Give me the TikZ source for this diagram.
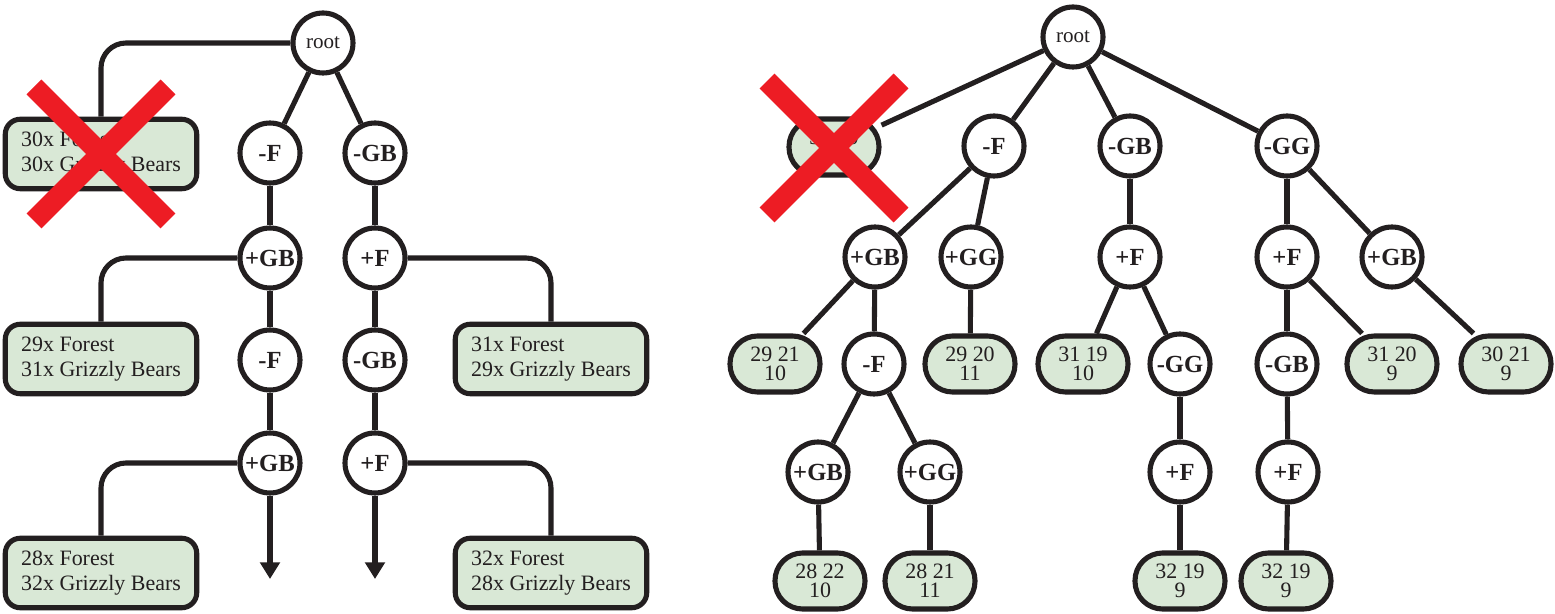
\documentclass[tikz,border=0pt]{standalone}
\usepackage{fontspec}
\setmainfont{Liberation Serif}
\usepackage{tikz}
\usetikzlibrary{arrows.meta,positioning}
\usepackage{xcolor}
\definecolor{ink}{HTML}{231F20}
\definecolor{leafgreen}{HTML}{D9E8D6}
\definecolor{crossred}{HTML}{ED1C24}

\begin{document}
\begin{tikzpicture}[x=0.02cm,y=-0.02cm,line width=2.9pt,draw=ink,text=ink]
	\tikzstyle{op}=[circle,draw,fill=white,minimum size=1.2cm,inner sep=0pt,
		font=\bfseries\fontsize{14}{14}\selectfont]
	\tikzstyle{start}=[op,font=\fontsize{12}{12}\selectfont]
	\tikzstyle{box}=[rectangle,draw,fill=leafgreen,rounded corners=0.3cm,
		minimum width=3.83cm,minimum height=1.39cm,align=left,
		font=\fontsize{12.5}{14.2}\selectfont]
	\tikzstyle{leaf}=[rectangle,draw,fill=leafgreen,rounded corners=0.55cm,
		minimum width=1.8cm,minimum height=1.12cm,inner sep=1pt,align=center,
		font=\fontsize{12.5}{11}\selectfont]
	\tikzstyle{cross}=[draw=crossred,line width=0.42cm]
	\tikzstyle{elbow}=[rounded corners=0.5cm]

	\useasboundingbox (0,0) rectangle (1555,614);

	% left: one path, the others thrown away
	\node[start] (A) at (323,43)  {root};
	\node[op]    (B) at (270,153) {-F};
	\node[op]    (C) at (375,153) {-GB};
	\node[op]    (D) at (270,258) {+GB};
	\node[op]    (E) at (270,360) {-F};
	\node[op]    (F) at (270,463) {+GB};
	\node[op]    (G) at (375,258) {+F};
	\node[op]    (H) at (375,360) {-GB};
	\node[op]    (I) at (375,463) {+F};
	\coordinate  (J) at (270,579);
	\coordinate  (K) at (375,579);

	\node[box] (L) at (101,154) {30x Forest\\30x Grizzly Bears};
	\node[box] (M) at (101,359) {29x Forest\\31x Grizzly Bears};
	\node[box] (N) at (101,573) {28x Forest\\32x Grizzly Bears};
	\node[box] (O) at (551,359) {31x Forest\\29x Grizzly Bears};
	\node[box] (P) at (551,573) {32x Forest\\28x Grizzly Bears};

	\path 	(A) edge (B)
			(A) edge (C)
			(B) edge (D)
			(D) edge (E)
			(E) edge (F)
			(C) edge (G)
			(G) edge (H)
			(H) edge (I);
	\draw[elbow] (A.west) -| (L.north);
	\draw[elbow] (D.west) -| (M.north);
	\draw[elbow] (F.west) -| (N.north);
	\draw[elbow] (G.east) -| (O.north);
	\draw[elbow] (I.east) -| (P.north);
	\draw[-{Triangle[width=11pt,length=9.5pt]}] (F.south) -- (J);
	\draw[-{Triangle[width=11pt,length=9.5pt]}] (I.south) -- (K);

	\draw[cross] ([shift={(-67,-67)}]L.center) -- ([shift={(67,67)}]L.center)
		([shift={(-67,67)}]L.center) -- ([shift={(67,-67)}]L.center);

	% right: the whole tree
	\node[start] (a) at (1073,37)  {root};
	\node[leaf]  (b) at (834,147)  {30 20\\10};
	\node[op]    (c) at (994,146)  {-F};
	\node[op]    (d) at (1130,146) {-GB};
	\node[op]    (e) at (1287,146) {-GG};

	\node[op]    (f) at (875,257)  {+GB};
	\node[op]    (g) at (971,257)  {+GG};
	\node[op]    (h) at (1130,257) {+F};
	\node[op]    (i) at (1287,257) {+F};
	\node[op]    (j) at (1392,257) {+GB};

	\node[leaf]  (k) at (775,364)  {29 21\\10};
	\node[op]    (l) at (874,364)  {-F};
	\node[leaf]  (m) at (970,364)  {29 20\\11};
	\node[leaf]  (n) at (1083,364) {31 19\\10};
	\node[op]    (o) at (1180,364) {-GG};
	\node[op]    (p) at (1287,364) {-GB};
	\node[leaf]  (q) at (1392,364) {31 20\\9};
	\node[leaf]  (r) at (1506,364) {30 21\\9};

	\node[op]    (s) at (818,472)  {+GB};
	\node[op]    (t) at (930,472)  {+GG};
	\node[op]    (u) at (1180,472) {+F};
	\node[op]    (v) at (1288,472) {+F};

	\node[leaf]  (w) at (820,581)  {28 22\\10};
	\node[leaf]  (x) at (930,581)  {28 21\\11};
	\node[leaf]  (y) at (1180,581) {32 19\\9};
	\node[leaf]  (z) at (1286,581) {32 19\\9};

	\path 	(a) edge (b)
			(a) edge (c)
			(a) edge (d)
			(a) edge (e)
			(c) edge (f)
			(c) edge (g)
			(d) edge (h)
			(e) edge (i)
			(e) edge (j)
			(f) edge (k)
			(f) edge (l)
			(g) edge (m)
			(h) edge (n)
			(h) edge (o)
			(i) edge (p)
			(i) edge (q)
			(j) edge (r)
			(l) edge (s)
			(l) edge (t)
			(o) edge (u)
			(p) edge (v)
			(s) edge (w)
			(t) edge (x)
			(u) edge (y)
			(v) edge (z);

	\draw[cross] ([shift={(-67,-66)}]b.center) -- ([shift={(67,68)}]b.center)
		([shift={(-67,68)}]b.center) -- ([shift={(67,-66)}]b.center);
\end{tikzpicture}
\end{document}
